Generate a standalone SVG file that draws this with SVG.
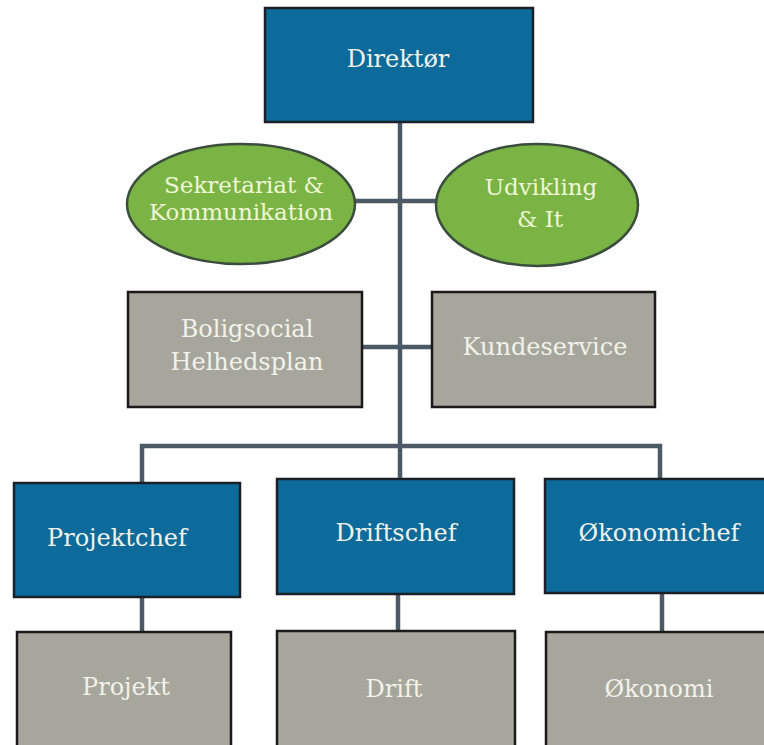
<svg xmlns="http://www.w3.org/2000/svg" width="764" height="745" viewBox="0 0 764 745">
<style>
  .blue { fill: #0c6b9a; stroke: #1b1f28; stroke-width: 2.5; }
  .gray { fill: #a6a69c; stroke: #1a1a1a; stroke-width: 2.5; }
  .green { fill: #7ab444; stroke: #3b4d3c; stroke-width: 2.5; }
  .conn { stroke: #4b5a66; stroke-width: 4.5; fill: none; }
  .lbl { font-family: 'DejaVu Serif', 'Liberation Serif', serif; font-size: 24px; text-anchor: middle; }
  .tw { fill: #f2f2ea; }
  .tg { fill: #f0f6d6; font-size: 23px; }
</style>
<rect width="764" height="745" fill="#ffffff"/>
<g id="connectors">
  <line class="conn" x1="400" y1="122" x2="400" y2="446"/>
  <line class="conn" x1="355" y1="201" x2="436" y2="201"/>
  <line class="conn" x1="362" y1="347" x2="432" y2="347"/>
  <polyline class="conn" points="142,483 142,446 660,446 660,479"/>
  <line class="conn" x1="400" y1="446" x2="400" y2="479"/>
  <line class="conn" x1="142" y1="597" x2="142" y2="632"/>
  <line class="conn" x1="398" y1="594" x2="398" y2="631"/>
  <line class="conn" x1="662" y1="594" x2="662" y2="632"/>
</g>
<g id="direktor">
  <rect class="blue" x="265" y="8" width="268" height="114"/>
  <text class="lbl tw" x="398" y="67">Direktør</text>
</g>
<g id="sekretariat">
  <ellipse class="green" cx="241" cy="204" rx="114" ry="60"/>
  <text class="lbl tg" x="244" y="193">Sekretariat &amp;</text>
  <text class="lbl tg" x="241" y="220">Kommunikation</text>
</g>
<g id="udvikling">
  <ellipse class="green" cx="537" cy="205" rx="101" ry="61"/>
  <text class="lbl tg" x="541" y="195">Udvikling</text>
  <text class="lbl tg" x="540" y="227">&amp; It</text>
</g>
<g id="boligsocial">
  <rect class="gray" x="128" y="292" width="234" height="115"/>
  <text class="lbl tw" x="247" y="337">Boligsocial</text>
  <text class="lbl tw" x="247" y="370">Helhedsplan</text>
</g>
<g id="kundeservice">
  <rect class="gray" x="432" y="292" width="223" height="115"/>
  <text class="lbl tw" x="545" y="355">Kundeservice</text>
</g>
<g id="projektchef">
  <rect class="blue" x="14" y="483" width="226" height="114"/>
  <text class="lbl tw" x="117" y="546">Projektchef</text>
</g>
<g id="driftschef">
  <rect class="blue" x="277" y="479" width="237" height="115"/>
  <text class="lbl tw" x="396" y="541">Driftschef</text>
</g>
<g id="okonomichef">
  <rect class="blue" x="545" y="479" width="230" height="114"/>
  <text class="lbl tw" x="659" y="541">Økonomichef</text>
</g>
<g id="projekt">
  <rect class="gray" x="17" y="632" width="214" height="125"/>
  <text class="lbl tw" x="126" y="695">Projekt</text>
</g>
<g id="drift">
  <rect class="gray" x="277" y="631" width="238" height="126"/>
  <text class="lbl tw" x="394" y="697">Drift</text>
</g>
<g id="okonomi">
  <rect class="gray" x="546" y="632" width="230" height="125"/>
  <text class="lbl tw" x="659" y="697">Økonomi</text>
</g>
</svg>
